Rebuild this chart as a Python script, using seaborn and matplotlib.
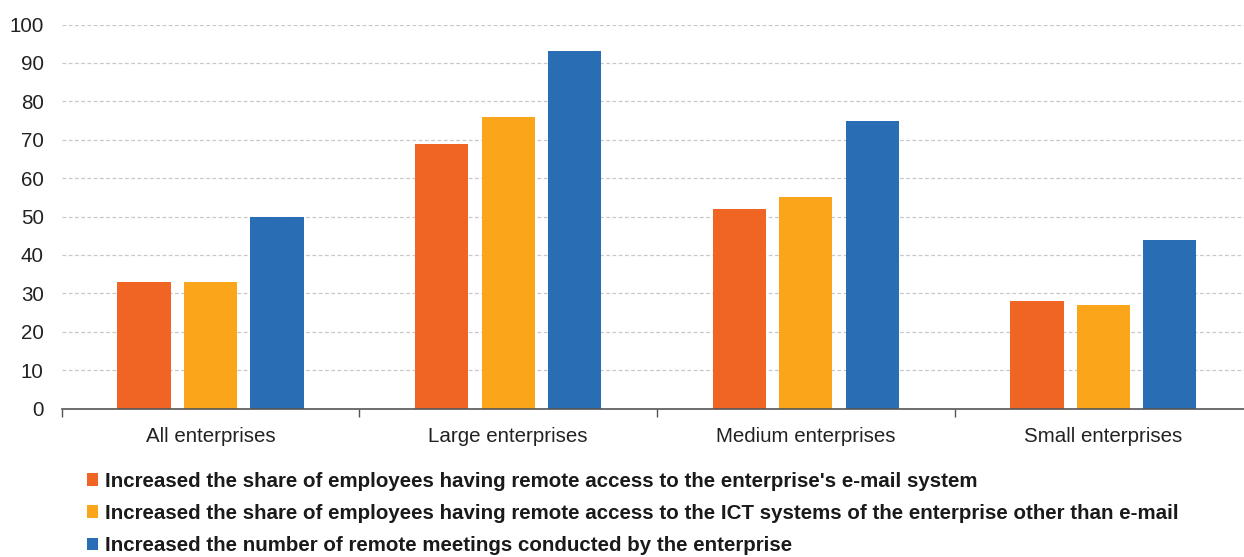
import matplotlib
matplotlib.use("Agg")
import matplotlib.pyplot as plt
from matplotlib.patches import Patch
from matplotlib.ticker import FixedLocator
import seaborn as sns
import pandas as pd

categories = ["All enterprises", "Large enterprises", "Medium enterprises", "Small enterprises"]
series_names = [
    "Increased the share of employees having remote access to the enterprise's e-mail system",
    "Increased the share of employees having remote access to the ICT systems of the enterprise other than e-mail",
    "Increased the number of remote meetings conducted by the enterprise",
]
email_access = [33, 69, 52, 28]
ict_access = [33, 76, 55, 27]
remote_meetings = [50, 93, 75, 44]
y_ticks = [0, 10, 20, 30, 40, 50, 60, 70, 80, 90, 100]

colors = ["#F06424", "#FAA51A", "#296EB4"]

df = pd.DataFrame({
    "category": categories * 3,
    "series": [series_names[0]] * 4 + [series_names[1]] * 4 + [series_names[2]] * 4,
    "value": email_access + ict_access + remote_meetings,
})

sns.set_theme(style="white")
plt.rcParams["font.family"] = ["Liberation Sans", "DejaVu Sans"]

fig = plt.figure(figsize=(12.44, 5.57), dpi=100)
ax = fig.add_axes([0.0496, 0.2666, 0.957, 0.6894])

sns.barplot(data=df, x="category", y="value", hue="series", order=categories,
            hue_order=series_names, palette=colors, width=0.67, gap=0.2,
            saturation=1, ax=ax, legend=False, edgecolor="none")

ax.set_xlim(-0.5, len(categories) - 0.5)
ax.set_ylim(0, 100)
ax.set_yticks(y_ticks)
ax.set_yticklabels([str(t) for t in y_ticks])
ax.set_xlabel("")
ax.set_ylabel("")

# category labels on minor ticks, separators on major ticks
ax.xaxis.set_major_locator(FixedLocator([i - 0.5 for i in range(len(categories) + 1)]))
ax.xaxis.set_minor_locator(FixedLocator(list(range(len(categories)))))
ax.set_xticklabels([], minor=False)
ax.set_xticklabels(categories, minor=True)
ax.tick_params(axis="x", which="major", length=6, width=1, color="#555555", direction="out", bottom=True)
ax.tick_params(axis="x", which="minor", length=0, pad=13, labelsize=14.8, labelcolor="#222222")
ax.tick_params(axis="y", length=0, pad=13, labelsize=14.8, labelcolor="#222222")

ax.yaxis.grid(True, linestyle=(0, (3, 2)), color="#c8c8c8", linewidth=0.9)
ax.set_axisbelow(True)
for side in ["left", "right", "top"]:
    ax.spines[side].set_visible(False)
ax.spines["bottom"].set_color("#555555")
ax.spines["bottom"].set_linewidth(1.2)

handles = [Patch(facecolor=c, edgecolor="none") for c in colors]
fig.legend(handles, series_names, loc="upper left", bbox_to_anchor=(0.070, 0.153),
           frameon=False, ncol=1, handlelength=0.55, handleheight=0.55, handletextpad=0.3,
           labelspacing=0.64, borderpad=0, borderaxespad=0,
           prop={"weight": "bold", "size": 14.8}, labelcolor="#1a1a1a")

fig.savefig("out.png", dpi=100)
